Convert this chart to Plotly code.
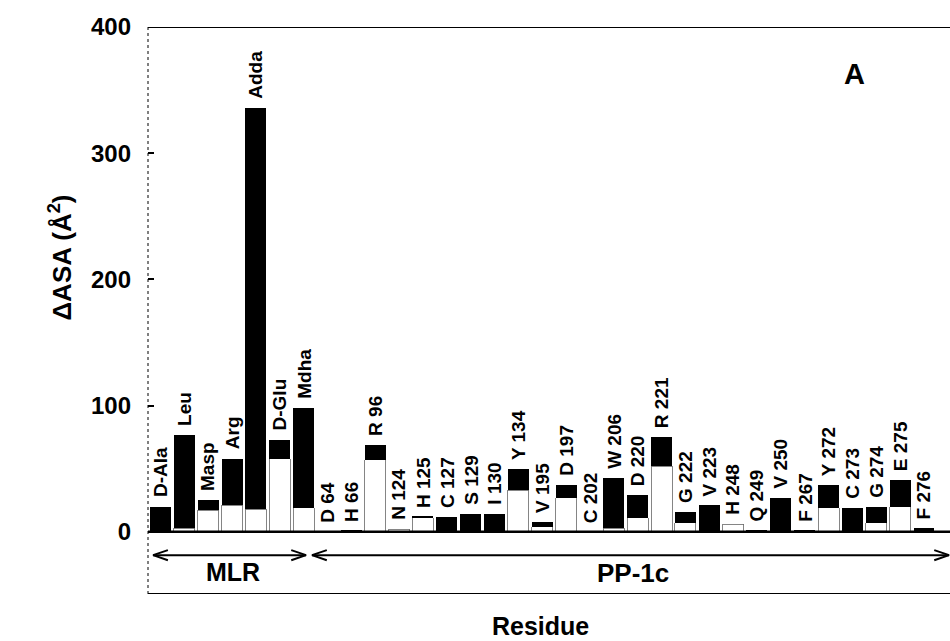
import numpy as np
import plotly.graph_objects as go

residues = ["D-Ala", "Leu", "Masp", "Arg", "Adda", "D-Glu", "Mdha",
            "D 64", "H 66", "R 96", "N 124", "H 125", "C 127", "S 129", "I 130",
            "Y 134", "V 195", "D 197", "C 202", "W 206", "D 220", "R 221",
            "G 222", "V 223", "H 248", "Q 249", "V 250", "F 267", "Y 272",
            "C 273", "G 274", "E 275", "F 276"]
# lower (white) part of each bar
white_part = [0, 3, 17, 21, 18, 58, 19,
              0, 0, 57, 2, 11, 0, 0, 0,
              33, 4, 27, 0, 3, 11, 52,
              7, 0, 6, 0, 1, 0, 19,
              0, 7, 20, 0]
# upper (black) part of each bar
black_part = [20, 74, 8, 37, 318, 15, 79,
              0, 1, 12, 0, 1, 12, 14, 14,
              17, 4, 10, 0, 40, 18, 23,
              9, 21, 0, 1, 26, 1, 18,
              19, 13, 21, 3]
groups = ["MLR", "PP-1c"]
group_span = [(-0.31, 6.1), (6.35, 33.05)]
yticks = [0, 100, 200, 300, 400]

x = np.arange(len(residues))
white = np.array(white_part)
black = np.array(black_part)
total = white + black

FONT = "Liberation Sans, Arial, sans-serif"
fig = go.Figure()
fig.add_bar(x=x, y=white, marker=dict(color="white", line=dict(color="#666", width=0.8)),
            width=0.88, showlegend=False, hoverinfo="skip")
fig.add_bar(x=x, y=black, marker=dict(color="black", line=dict(width=0)),
            width=0.88, showlegend=False, hoverinfo="skip")

YMIN, YMAX = -49.3, 400
XMIN, XMAX = -0.524, 33.09

annotations = []
for xi, t, lab in zip(x, total, residues):
    annotations.append(dict(x=xi, y=t, text="<b>" + lab + "</b>", textangle=-90, showarrow=False,
                            xanchor="center", yanchor="bottom", yshift=7,
                            font=dict(family=FONT, size=19, color="black")))

# arrows with open chevron heads
arrow_y = -18.5
hx, hy = 0.62, 4.0
for (g0, g1), name in zip(group_span, groups):
    xs = [g0 + hx, g0, g0 + hx, None, g0, g1, None, g1 - hx, g1, g1 - hx]
    ys = [arrow_y + hy, arrow_y, arrow_y - hy, None, arrow_y, arrow_y, None,
          arrow_y + hy, arrow_y, arrow_y - hy]
    fig.add_scatter(x=xs, y=ys, mode="lines", line=dict(color="black", width=2),
                    showlegend=False, hoverinfo="skip", cliponaxis=False)
annotations.append(dict(x=3.05, y=-32, text="<b>MLR</b>", showarrow=False,
                        font=dict(family=FONT, size=25, color="black")))
annotations.append(dict(x=19.8, y=-32.7, text="<b>PP-1c</b>", showarrow=False,
                        font=dict(family=FONT, size=26, color="black")))
annotations.append(dict(x=29.1, y=363, text="<b>A</b>", showarrow=False,
                        font=dict(family=FONT, size=29, color="black")))
annotations.append(dict(xref="paper", x=-0.132, y=217, text="<b>ΔASA (Å<sup>2</sup>)</b>",
                        textangle=-90, showarrow=False,
                        font=dict(family=FONT, size=26, color="black")))
annotations.append(dict(xref="paper", yref="paper", x=0.489, y=-0.056, text="<b>Residue</b>",
                        showarrow=False, yanchor="middle",
                        font=dict(family=FONT, size=25, color="black")))

shapes = [
    dict(type="line", xref="paper", yref="y", x0=0, x1=1, y0=YMAX, y1=YMAX,
         line=dict(color="black", width=2)),
    dict(type="line", xref="paper", yref="y", x0=0, x1=1, y0=YMIN, y1=YMIN,
         line=dict(color="black", width=2)),
    dict(type="line", xref="paper", yref="y", x0=0, x1=1, y0=0, y1=0,
         line=dict(color="black", width=2.5)),
    dict(type="line", xref="paper", yref="y", x0=0, x1=0, y0=YMIN, y1=YMAX,
         line=dict(color="black", width=1, dash="dot")),
]

fig.update_layout(
    width=950, height=641, barmode="stack", plot_bgcolor="white", paper_bgcolor="white",
    margin=dict(l=148, r=0, t=27, b=47),
    xaxis=dict(range=[XMIN, XMAX], showticklabels=False, showgrid=False,
               zeroline=False, showline=False, ticks=""),
    yaxis=dict(range=[YMIN, YMAX], tickvals=yticks, ticks="inside", ticklen=6,
               tickwidth=1.5, tickcolor="black", showgrid=False, zeroline=False,
               showline=False, ticklabelstandoff=16,
               tickfont=dict(family=FONT, size=24, color="black", weight="bold")),
    annotations=annotations, shapes=shapes, font=dict(family=FONT),
)
fig.write_html("out.html")
